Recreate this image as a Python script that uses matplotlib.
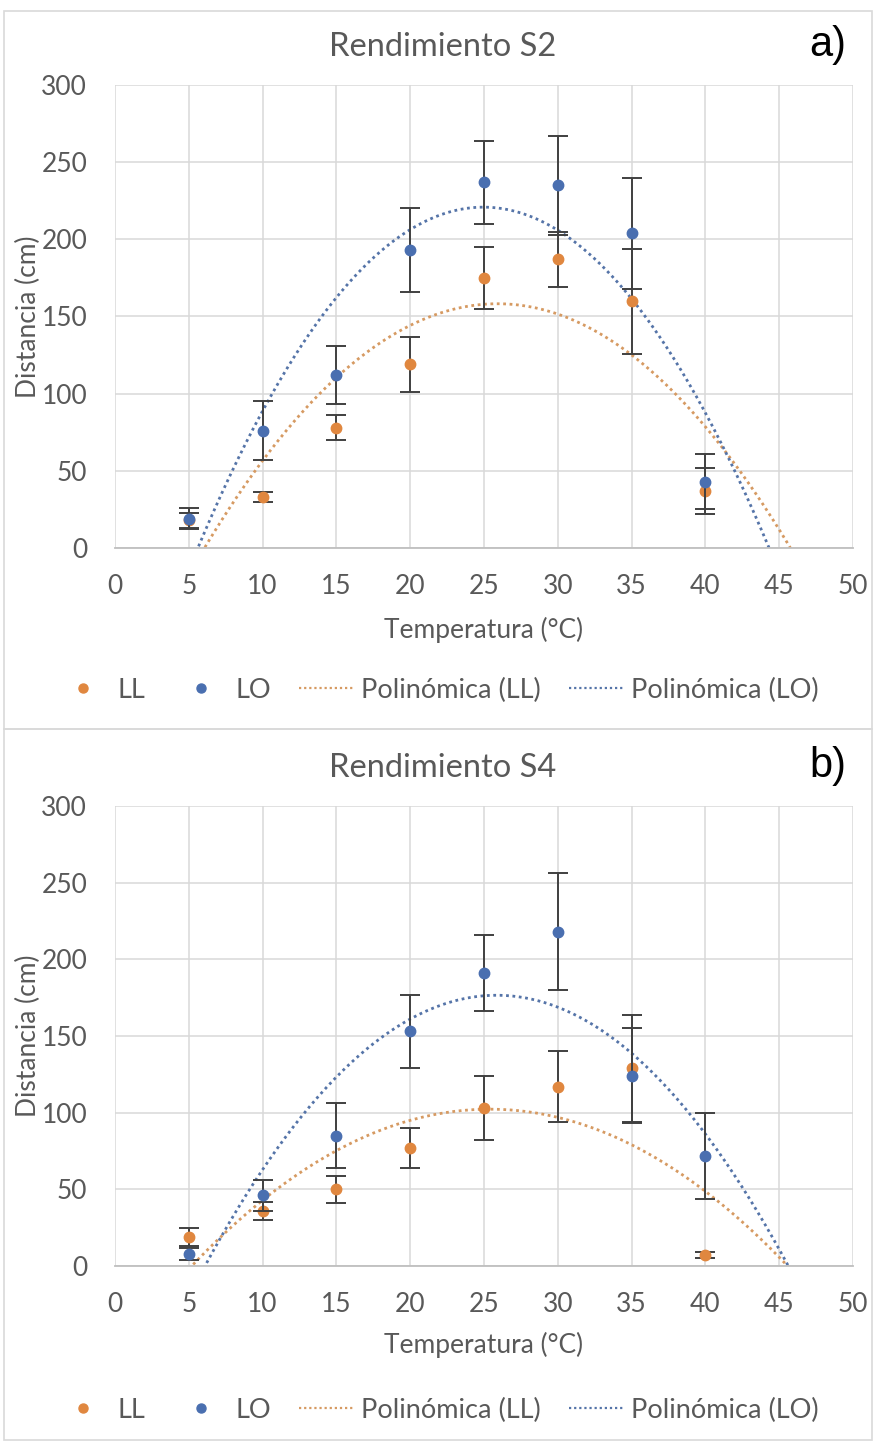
import numpy as np
import matplotlib.pyplot as plt
from matplotlib.patches import Rectangle
from matplotlib.lines import Line2D

plt.rcParams['font.family'] = ['Lato', 'DejaVu Sans']

# temperature (°C)
temp = [5, 10, 15, 20, 25, 30, 35, 40]

# Rendimiento S2
s2_ll = [18, 33, 78, 119, 175, 187, 160, 37]
s2_ll_err = [5, 3, 8, 18, 20, 18, 34, 15]
s2_lo = [19, 76, 112, 193, 237, 235, 204, 43]
s2_lo_err = [7, 19, 19, 27, 27, 32, 36, 18]

# Rendimiento S4
s4_ll = [19, 36, 50, 77, 103, 117, 129, 7]
s4_ll_err = [6, 6, 9, 13, 21, 23, 35, 2]
s4_lo = [8, 46, 85, 153, 191, 218, 124, 72]
s4_lo_err = [4, 10, 21, 24, 25, 38, 31, 28]

ORANGE = '#E0873F'
BLUE = '#4A6FB0'
ORANGE_T = '#D69A62'
BLUE_T = '#5574A8'
GRID = '#D9D9D9'
TXT = '#595959'

W, H = 877, 1441
fig = plt.figure(figsize=(W / 100, H / 100), dpi=100)


def px(x0, y0, x1, y1):
    # pixel box (top-left origin) -> figure fraction rect
    return [x0 / W, 1 - y1 / H, (x1 - x0) / W, (y1 - y0) / H]


def panel(box, frame, title, tag, ll, ll_err, lo, lo_err, xlab_y, leg_y):
    fig.patches.append(Rectangle((frame[0] / W, 1 - frame[3] / H),
                                 (frame[2] - frame[0]) / W, (frame[3] - frame[1]) / H,
                                 transform=fig.transFigure, fill=False,
                                 edgecolor=GRID, lw=1.2))
    ax = fig.add_axes(px(*box))
    ax.set_xlim(0, 50)
    ax.set_ylim(0, 300)
    ax.set_xticks(range(0, 51, 5))
    ax.set_yticks(range(0, 301, 50))
    ax.grid(True, color=GRID, lw=1.1)
    ax.set_axisbelow(True)
    for s in ['top', 'right', 'left']:
        ax.spines[s].set_visible(False)
    ax.spines['bottom'].set_color('#BFBFBF')
    ax.spines['bottom'].set_linewidth(1.3)
    ax.tick_params(length=0, colors=TXT, labelsize=19)
    ax.tick_params(axis='y', pad=20)
    ax.tick_params(axis='x', pad=19)

    xs = np.linspace(5, 46, 300)
    for y, col in [(ll, ORANGE_T), (lo, BLUE_T)]:
        c = np.polyfit(temp, y, 2)
        ax.plot(xs, np.polyval(c, xs), ls=(0, (1, 1.3)), lw=2.0, color=col, zorder=2)

    ax.errorbar(temp, ll, yerr=ll_err, fmt='o', color=ORANGE, ms=7.5,
                ecolor='#404040', elinewidth=1.4, capsize=7, capthick=1.4, zorder=3)
    ax.errorbar(temp, lo, yerr=lo_err, fmt='o', color=BLUE, ms=7.5,
                ecolor='#404040', elinewidth=1.4, capsize=7, capthick=1.4, zorder=4)

    fig.text(443 / W, 1 - (box[1] - 38) / H, title, ha='center', va='center',
             fontsize=23.5, color=TXT)
    fig.text(828 / W, 1 - (box[1] - 40) / H, tag, ha='center', va='center',
             fontsize=30, color='black', family='Liberation Sans')
    fig.text(484 / W, 1 - xlab_y / H, 'Temperatura (°C)', ha='center', va='center',
             fontsize=19, color=TXT)
    fig.text(28 / W, 1 - (box[1] + box[3]) / 2 / H, 'Distancia (cm)', rotation=90,
             ha='center', va='center', fontsize=19, color=TXT)

    handles = [
        Line2D([], [], ls='none', marker='o', ms=6.5, color=ORANGE),
        Line2D([], [], ls='none', marker='o', ms=6.5, color=BLUE),
        Line2D([], [], ls=(0, (1, 1.3)), lw=1.6, color=ORANGE_T),
        Line2D([], [], ls=(0, (1, 1.3)), lw=1.6, color=BLUE_T),
    ]
    labels = ['LL', 'LO', 'Polinómica (LL)', 'Polinómica (LO)']
    fig.legend(handles, labels, loc='center', bbox_to_anchor=(437 / W, 1 - leg_y / H),
               ncol=4, frameon=False, fontsize=19.5, labelcolor=TXT,
               handlelength=2.05, handletextpad=0.23, columnspacing=1.05,
               borderpad=0, borderaxespad=0)
    return ax


panel((115, 85, 853, 548), (4, 11, 872, 729), 'Rendimiento S2', 'a)',
      s2_ll, s2_ll_err, s2_lo, s2_lo_err, 630, 690)
panel((115, 806, 853, 1266), (4, 729, 872, 1440), 'Rendimiento S4', 'b)',
      s4_ll, s4_ll_err, s4_lo, s4_lo_err, 1345, 1410)

fig.savefig('out.png', dpi=100)
